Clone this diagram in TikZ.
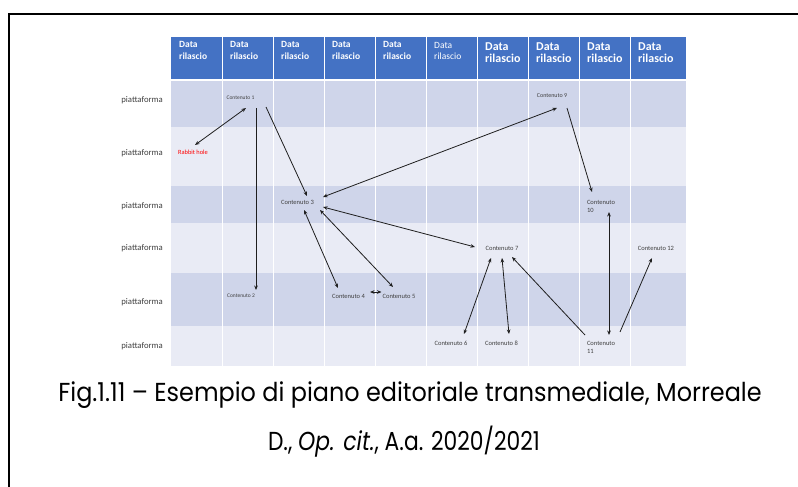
\documentclass[tikz,border=0pt]{standalone}
\usepackage{fontspec}
\setmainfont{Carlito}
\newfontfamily\capfont{Poppins}
\usetikzlibrary{arrows.meta}
\definecolor{hdrblue}{HTML}{4472C4}
\definecolor{rowdark}{HTML}{CFD5EA}
\definecolor{rowlight}{HTML}{E9EBF5}
\definecolor{txtgray}{HTML}{404040}
\definecolor{linkcol}{HTML}{1E1E1E}
\begin{document}
\begin{tikzpicture}[x=1pt,y=-1pt,
  hdrsmall/.style={anchor=north west,inner sep=0pt,align=left,text=white,
    font=\fontsize{9.5}{12}\selectfont\bfseries},
  hdrthin/.style={anchor=north west,inner sep=0pt,align=left,text=white,
    font=\fontsize{9.5}{11.5}\selectfont},
  hdrlarge/.style={anchor=north west,inner sep=0pt,align=left,text=white,
    font=\fontsize{12}{12}\selectfont\bfseries},
  platform/.style={anchor=east,inner sep=0pt,text=txtgray,font=\fontsize{8.7}{10}\selectfont},
  item/.style={inner sep=0pt,text=txtgray,font=\fontsize{6.5}{8}\selectfont},
  itemsmall/.style={inner sep=0pt,text=txtgray,font=\fontsize{5.5}{6}\selectfont},
  itemtwo/.style={inner sep=0pt,text=txtgray,align=left,font=\fontsize{6.5}{8}\selectfont},
  link/.style={draw=linkcol,line width=0.8pt},
  >={Stealth[length=4.5pt,width=3.6pt]},
  caption/.style={inner sep=0pt,text=black,font=\capfont\fontsize{26}{30}\selectfont}
]
\useasboundingbox (0,0) rectangle (798,487);
\fill[white] (0,0) rectangle (798,487);

% outer frame (top and left edges)
\draw[line width=1.4pt] (9,487) -- (9,14) -- (798,14);

% table body: alternating row bands
\fill[rowdark]  (171,80)  rectangle (686,127);
\fill[rowlight] (171,127) rectangle (686,186);
\fill[rowdark]  (171,186) rectangle (686,223);
\fill[rowlight] (171,223) rectangle (686,273);
\fill[rowdark]  (171,273) rectangle (686,326);
\fill[rowlight] (171,326) rectangle (686,366);

% header band
\fill[hdrblue] (171,37) rectangle (686,80);

% white grid lines
\foreach \cx in {222,273,324,375,426,477,528,579,630}
  \draw[white,line width=1pt] (\cx,37) -- (\cx,366);
\draw[white,line width=1.4pt] (171,80) -- (686,80);

% header texts
\foreach \cx/\nm in {171/h1,222/h2,273/h3,324/h4,375/h5}
  \node[hdrsmall] (\nm) at (\cx+8,41.5) {Data\\rilascio};
\node[hdrthin] (h6) at (434,42) {Data\\rilascio};
\foreach \cx/\nm in {477/h7,528/h8,579/h9,630/h10}
  \node[hdrlarge] (\nm) at (\cx+8,42.5) {Data\\rilascio};

% row labels
\node[platform] (p1) at (163,100) {piattaforma};
\node[platform] (p2) at (163,153) {piattaforma};
\node[platform] (p3) at (163,206) {piattaforma};
\node[platform] (p4) at (163,248) {piattaforma};
\node[platform] (p5) at (163,302) {piattaforma};
\node[platform] (p6) at (163,346) {piattaforma};

% contents
\node[itemsmall] (c1) at (240.5,98) {Contenuto 1};
\node[item,text=red,font=\fontsize{6.4}{8}\selectfont] (rh) at (193,152) {Rabbit hole};
\node[item] (c3) at (297.5,202) {Contenuto 3};
\node[item,font=\fontsize{6}{8}\selectfont] (c9) at (552,96) {Contenuto 9};
\node[itemtwo] (c10) at (601,206) {Contenuto\\10};
\node[item] (c7) at (502,248) {Contenuto 7};
\node[item] (c12) at (656,248) {Contenuto 12};
\node[itemsmall] (c2) at (241,296) {Contenuto 2};
\node[item] (c4) at (348.5,296) {Contenuto 4};
\node[item] (c5) at (399,296) {Contenuto 5};
\node[item] (c6) at (451,343) {Contenuto 6};
\node[item] (c8) at (501.5,343) {Contenuto 8};
\node[itemtwo] (c11) at (601,347) {Contenuto\\11};

% connectors
\draw[link,<->] ([shift={(5.5,10)}]c1.center) -- ([shift={(2,-7)}]rh.center);
\draw[link,->]  ([shift={(15.5,10)}]c1.center) -- ([shift={(15,-6)}]c2.center);
\draw[link,->]  ([shift={(25.5,9)}]c1.center) -- ([shift={(9.5,-6)}]c3.center);
\draw[link,<->] ([shift={(25.5,-5)}]c3.center) -- ([shift={(5,12)}]c9.center);
\draw[link,<->] ([shift={(25.5,5)}]c3.center) -- ([shift={(-27,-1)}]c7.center);
\draw[link,<->] ([shift={(6.5,8)}]c3.center) -- ([shift={(-10.5,-8)}]c4.center);
\draw[link,<->] ([shift={(22.5,8)}]c3.center) -- ([shift={(-6,-9)}]c5.center);
\draw[link,<->] ([shift={(21.5,-4)}]c4.center) -- ([shift={(-17.5,-4)}]c5.center);
\draw[link,->]  ([shift={(15,12)}]c9.center) -- ([shift={(-9,-14)}]c10.center);
\draw[link,<->] ([shift={(8,6)}]c10.center) -- ([shift={(8,-12)}]c11.center);
\draw[link,->]  ([shift={(19,-15)}]c11.center) -- ([shift={(-4,10)}]c12.center);
\draw[link,<->] ([shift={(13,-9)}]c6.center) -- ([shift={(-11,10)}]c7.center);
\draw[link,<->] ([shift={(7.5,-9)}]c8.center) -- ([shift={(0,10)}]c7.center);
\draw[link,->]  ([shift={(-16,-12)}]c11.center) -- ([shift={(10,9)}]c7.center);

% caption
\node[caption,anchor=base] (cap1) at (410,401)
  {\scalebox{0.92}[1]{Fig.1.11 – Esempio di piano editoriale transmediale, Morreale}};
\node[caption,anchor=base] (cap2) at (404,450)
  {\scalebox{0.84}[1]{D., \textit{Op. cit.}, A.a. 2020/2021}};
\end{tikzpicture}
\end{document}
